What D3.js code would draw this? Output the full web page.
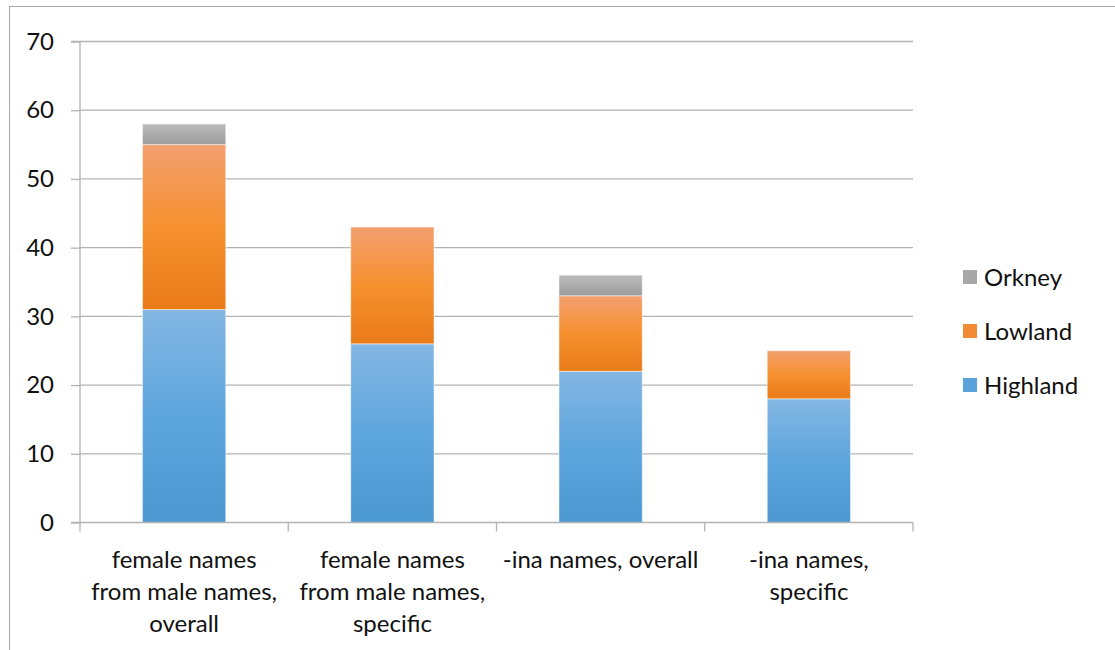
<!DOCTYPE html>
<html>
<head>
<meta charset="utf-8">
<script src="https://cdn.jsdelivr.net/npm/d3@7"></script>
<style>
  body { margin: 0; background: #fff; }
  text { font-family: Lato, "Open Sans", sans-serif; fill: #111; }
</style>
</head>
<body>
<div id="chart"></div>
<script>
var categories = [
  "female names\nfrom male names,\noverall",
  "female names\nfrom male names,\nspecific",
  "-ina names, overall",
  "-ina names,\nspecific"
];
var seriesNames = ["Highland", "Lowland", "Orkney"];
var highland = [31, 26, 22, 18];
var lowland = [24, 17, 11, 7];
var orkney = [3, 0, 3, 0];
var yTicks = [0, 10, 20, 30, 40, 50, 60, 70];

var w = 1115;
var h = 650;

var svg = d3.select("#chart")
  .append("svg")
  .attr("width", w)
  .attr("height", h);

// frame
svg.append("rect")
  .attr("x", 9.5)
  .attr("y", 6.5)
  .attr("width", w)
  .attr("height", h)
  .attr("fill", "none")
  .attr("stroke", "#a6a6a6");

var x = d3.scaleBand()
  .domain(categories)
  .range([80, 913])
  .paddingInner(0.6)
  .paddingOuter(0.3);

var y = d3.scaleLinear()
  .domain([0, 70])
  .range([522.5, 41.5]);

var gradColors = {
  Highland: ["#84b7e3", "#5da5dd", "#4c98d1"],
  Lowland: ["#f3a070", "#f6902f", "#e97b18"],
  Orkney: ["#bcbcbc", "#acacac", "#9c9c9c"]
};
var legendColors = { Highland: "#5aa2dc", Lowland: "#f38b35", Orkney: "#a8a8a8" };

var defs = svg.append("defs");
seriesNames.forEach(function(s) {
  var g = defs.append("linearGradient")
    .attr("id", "grad-" + s)
    .attr("x1", 0).attr("y1", 0)
    .attr("x2", 0).attr("y2", 1);
  g.append("stop").attr("offset", "0%").attr("stop-color", gradColors[s][0]);
  g.append("stop").attr("offset", "50%").attr("stop-color", gradColors[s][1]);
  g.append("stop").attr("offset", "100%").attr("stop-color", gradColors[s][2]);
});

// gridlines
svg.append("g")
  .selectAll("line")
  .data(yTicks.slice(1))
  .enter()
  .append("line")
  .attr("x1", 80)
  .attr("x2", 913)
  .attr("y1", function(d) { return y(d); })
  .attr("y2", function(d) { return y(d); })
  .attr("stroke", "#b3b3b3")
  .attr("stroke-width", 1.3);

// stacked data
var rows = categories.map(function(c, i) {
  return { cat: c, Highland: highland[i], Lowland: lowland[i], Orkney: orkney[i] };
});
var stack = d3.stack().keys(seriesNames)(rows);

svg.append("g")
  .selectAll("g")
  .data(stack)
  .enter()
  .append("g")
  .attr("fill", function(d) { return "url(#grad-" + d.key + ")"; })
  .selectAll("rect")
  .data(function(d) { return d.filter(function(v) { return v[1] - v[0] > 0; }); })
  .enter()
  .append("rect")
  .attr("x", function(d) { return x(d.data.cat); })
  .attr("y", function(d) { return y(d[1]); })
  .attr("width", x.bandwidth())
  .attr("height", function(d) { return y(d[0]) - y(d[1]); })
  .attr("stroke", "#ffffff")
  .attr("stroke-opacity", 0.5)
  .attr("stroke-width", 1);

// y axis
var yAxis = d3.axisLeft(y).tickValues(yTicks).tickSize(9).tickPadding(17);
var gy = svg.append("g")
  .attr("transform", "translate(80,0)")
  .call(yAxis);
gy.select(".domain").attr("stroke", "#b3b3b3").attr("stroke-width", 1.3)
  .attr("d", "M-9," + y(70) + "H0V" + y(0) + "H-9");
gy.selectAll(".tick line").attr("stroke", "#b3b3b3").attr("stroke-width", 1.3);
gy.selectAll(".tick text").style("font-size", "24px").attr("fill", "#111");

// x axis
var gx = svg.append("g")
  .attr("transform", "translate(0," + y(0) + ")");
gx.append("line")
  .attr("x1", 80).attr("x2", 913)
  .attr("stroke", "#b3b3b3").attr("stroke-width", 1.3);
var bounds = [80].concat(categories.map(function(c) { return x(c) + x.bandwidth() + x.step() * x.paddingInner() / 2; }));
bounds[bounds.length - 1] = 913;
gx.selectAll(".xt")
  .data(bounds)
  .enter()
  .append("line")
  .attr("x1", function(d) { return d; })
  .attr("x2", function(d) { return d; })
  .attr("y1", 0).attr("y2", 9)
  .attr("stroke", "#b3b3b3").attr("stroke-width", 1.3);

gx.selectAll(".xl")
  .data(categories)
  .enter()
  .append("text")
  .attr("text-anchor", "middle")
  .style("font-size", "24px")
  .attr("transform", function(d) { return "translate(" + (x(d) + x.bandwidth() / 2) + ",0)"; })
  .each(function(d) {
    var t = d3.select(this);
    d.split("\n").forEach(function(line, i) {
      t.append("tspan").attr("x", 0).attr("y", 45 + i * 32).text(line);
    });
  });

// legend
var legendItems = seriesNames.slice().reverse();
var leg = svg.append("g")
  .selectAll("g")
  .data(legendItems)
  .enter()
  .append("g")
  .attr("transform", function(d, i) { return "translate(963," + (277 + i * 54) + ")"; });
leg.append("rect")
  .attr("x", 0).attr("y", -7)
  .attr("width", 14).attr("height", 14)
  .attr("fill", function(d) { return legendColors[d]; });
leg.append("text")
  .attr("x", 21)
  .attr("dy", "0.36em")
  .style("font-size", "24px")
  .text(function(d) { return d; });
</script>
</body>
</html>
